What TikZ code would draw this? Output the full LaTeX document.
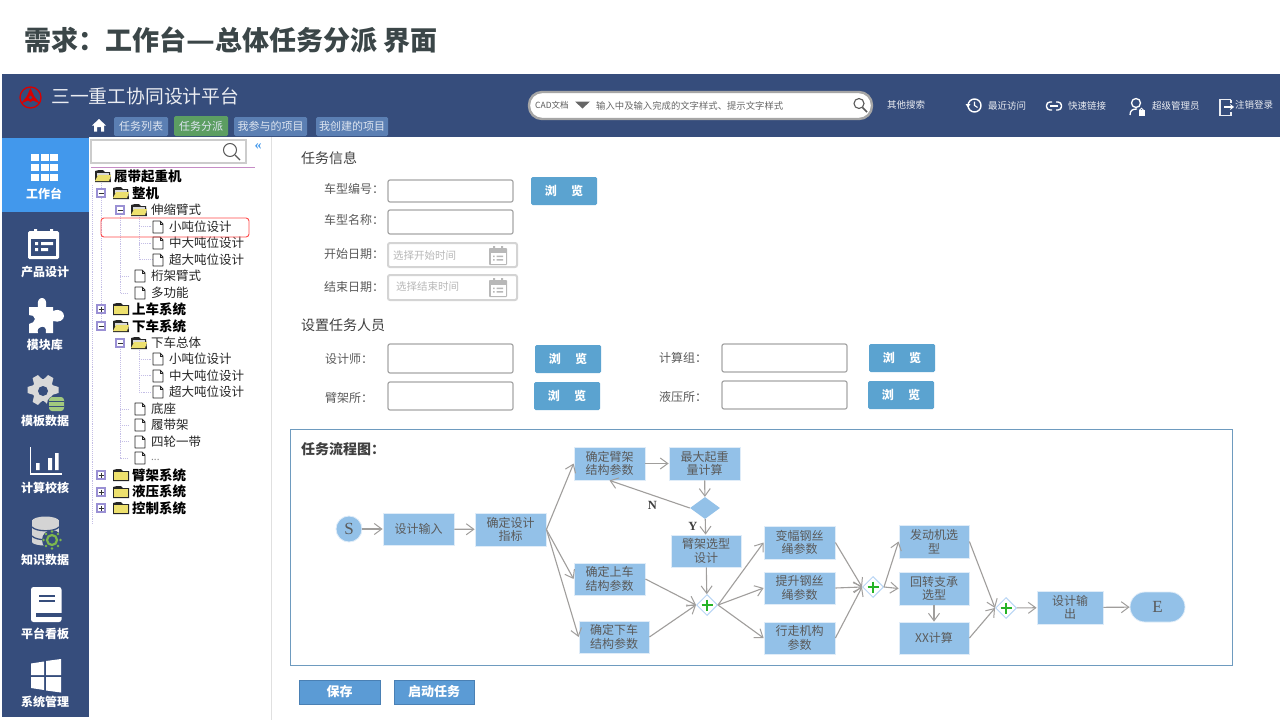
\documentclass[tikz,border=0pt]{standalone}
\usepackage{fontspec}
\setmainfont{Noto Sans CJK SC}
\newfontfamily\cjk{Noto Sans CJK SC}
\newfontfamily\ser{Liberation Serif}
\usetikzlibrary{arrows.meta,shapes.geometric,shapes.misc,calc}
\definecolor{navy}{HTML}{364D7C}
\definecolor{actblue}{HTML}{4298EC}
\definecolor{tabblue}{HTML}{5B7FB3}
\definecolor{tabgreen}{HTML}{5C9E62}
\definecolor{flow}{HTML}{93C1E8}
\definecolor{btn}{HTML}{5BA3D0}
\definecolor{savebtn}{HTML}{5B9BD5}
\definecolor{saveedge}{HTML}{4A80B4}
\definecolor{txt}{HTML}{5A5A5A}
\definecolor{arr}{HTML}{A09E9C}
\definecolor{fr}{HTML}{6E9BBF}
\definecolor{treeline}{HTML}{C4BEE6}
\definecolor{boxp}{HTML}{9A90D4}
\definecolor{fold}{HTML}{EDE06E}
\definecolor{gatee}{HTML}{B9D6F5}
\definecolor{gearg}{HTML}{D9D9D9}
\definecolor{datag}{HTML}{A2C97E}
\definecolor{dbg}{HTML}{7DB74E}
\definecolor{titlec}{HTML}{3B4648}
\newcommand{\fs}[1]{\fontsize{#1}{#1}\selectfont}
\tikzset{
 x=1pt,y=-1pt,
 fbox/.style={draw=white!70!flow,line width=.8pt,fill=flow,inner sep=0pt,align=center,text=txt,font=\fontsize{12}{13.5}\selectfont},
 arrline/.style={draw=arr,line width=1.1pt,-{Straight Barb[length=7.5pt,width=11pt,line width=1pt]}},
 gate/.style={diamond,aspect=1,draw=gatee,line width=1pt,fill=white,minimum width=21pt,minimum height=21pt,inner sep=0pt},
 lab/.style={anchor=west,inner sep=0pt,text=txt,font=\fs{12}},
 sect/.style={anchor=west,inner sep=0pt,text=black!75,font=\fs{14}},
 sidelab/.style={inner sep=0pt,text=white,font=\bfseries\fs{12}},
 toptxt/.style={inner sep=0pt,text=white!90!navy,font=\fs{9.5},anchor=west},
 tabn/.style={rounded corners=1.5pt,inner sep=0pt,text=white!80!tabblue,font=\fs{11}},
 inp/.style={draw=black!35,line width=1.2pt,rounded corners=2pt,fill=white},
 datebox/.style={draw=black!17,line width=2pt,rounded corners=2pt,fill=white},
 brw/.style={fill=btn,rounded corners=1.5pt,inner sep=0pt,text=white,font=\bfseries\fs{12}},
 phold/.style={anchor=west,inner sep=0pt,text=black!28,font=\fs{10.5}},
 trb/.style={anchor=west,inner sep=0pt,text=black,font=\bfseries\fs{13.5}},
 trn/.style={anchor=west,inner sep=0pt,text=black!85,font=\fs{12.5}},
 dots/.style={draw=treeline,line width=.9pt,densely dotted},
}
% closed folder, open folder, document, and +/- box in the tree
\newcommand{\tfold}[2]{%
 \fill[black!85] (#1-8,#2-5) -- (#1-4,#2-6) -- (#1,#2-6) -- (#1+2,#2-4) -- (#1+8,#2-4) -- (#1+8,#2+6) -- (#1-8,#2+6) -- cycle;
 \fill[fold] (#1-7,#2-3) rectangle (#1+6.5,#2+4.5);}
\newcommand{\tfoldo}[2]{%
 \fill[black!85] (#1-8,#2-5) -- (#1-4,#2-6) -- (#1,#2-6) -- (#1+2,#2-4) -- (#1+7,#2-4) -- (#1+8,#2+6) -- (#1-8,#2+6) -- cycle;
 \fill[gearg] (#1-6,#2-3) rectangle (#1+6,#2);
 \fill[fold] (#1-8,#2+5) -- (#1-5,#2-1) -- (#1+8,#2-1) -- (#1+6,#2+5) -- cycle;}
\newcommand{\tdoc}[2]{%
 \draw[black!85,line width=.9pt,fill=white,line join=round] (#1-5,#2-6) -- (#1+2,#2-6) -- (#1+5,#2-3) -- (#1+5,#2+6) -- (#1-5,#2+6) -- cycle;
 \draw[black!85,line width=.7pt] (#1+2,#2-6) -- (#1+2,#2-3) -- (#1+5,#2-3);}
\newcommand{\tminus}[2]{\draw[boxp,fill=white,line width=1.1pt] (#1-4,#2-4) rectangle (#1+4,#2+4); \draw[black!80,line width=.7pt] (#1-2.5,#2) -- (#1+2.5,#2);}
\newcommand{\tplus}[2]{\tminus{#1}{#2}\draw[black!80,line width=.7pt] (#1,#2-2.5) -- (#1,#2+2.5);}
\newcommand{\calicon}[2]{%
 \fill[black!28,rounded corners=.8pt] (#1-9,#2-7) rectangle (#1+9,#2+10);
 \fill[white] (#1-7.5,#2-2) rectangle (#1+7.5,#2+8.5);
 \fill[black!28] (#1-5,#2-9) rectangle (#1-3,#2-5) (#1+3,#2-9) rectangle (#1+5,#2-5);
 \fill[black!28] (#1-5,#2+.5) rectangle (#1-3.5,#2+2) (#1-1.5,#2+.5) rectangle (#1+5,#2+2) (#1-5,#2+4) rectangle (#1-3.5,#2+5.5) (#1-1.5,#2+4) rectangle (#1+5,#2+5.5);}
\begin{document}
\begin{tikzpicture}
\useasboundingbox (0,0) rectangle (1280,720);
\fill[white] (0,0) rectangle (1280,720);
% title
\node[anchor=west,inner sep=0pt,text=titlec,font=\bfseries\fs{27}] (title) at (24,40) {需求：工作台\scalebox{1.17}[1]{—}总体任务分派 界面};
% header and side bar
\fill[navy] (2,74) rectangle (1280,137);
\fill[navy] (2,137) rectangle (89,717);
\fill[actblue] (2,138) rectangle (89,212);
\draw[black!12,line width=.8pt] (271,137) -- (271,720);
% logo
\draw[red!85!black,line width=1.3pt] (30.5,97.5) circle (10.5);
\fill[red!85!black] (30.5,88) -- (34,96) -- (40,103.5) -- (33,100.5) -- (30.5,102) -- (28,100.5) -- (21,103.5) -- (27,96) -- cycle;
\fill[navy] (30.5,97.5) circle (1.8);
\node[anchor=west,inner sep=0pt,text=white!90!navy,font=\fs{18.8}] (brand) at (51,96.5) {三一重工协同设计平台};
% tabs
\fill[white] (99,119) -- (106,125.5) -- (104,125.5) -- (104,131.5) -- (101,131.5) -- (101,127) -- (97,127) -- (97,131.5) -- (94,131.5) -- (94,125.5) -- (92,125.5) -- cycle;
\node[tabn,fill=tabblue,minimum width=54pt,minimum height=19pt] (t1) at (141,126.5) {任务列表};
\node[tabn,fill=tabgreen,minimum width=54pt,minimum height=20pt] (t2) at (201,126) {任务分派};
\node[tabn,fill=tabblue,minimum width=73pt,minimum height=19pt] (t3) at (270.5,126.5) {我参与的项目};
\node[tabn,fill=tabblue,minimum width=72pt,minimum height=19pt] (t4) at (352,126.5) {我创建的项目};
% search bar
\draw[black!35,line width=2.4pt,fill=white,rounded corners=13pt] (529,92) rectangle (872,119);
\node[anchor=west,inner sep=0pt,text=black!65,font=\fs{8.5}] (s1) at (535,105.5) {CAD文档};
\fill[black!60] (575,101.5) -- (590,101.5) -- (582.5,108.5) -- cycle;
\node[anchor=west,inner sep=0pt,text=black!60,font=\fs{9.35}] (s2) at (596,105.5) {输入中及输入完成的文字样式、提示文字样式};
\draw[black!65,line width=1.1pt] (859,103.5) circle (5);
\draw[black!65,line width=1.5pt] (862.5,107.5) -- (867,112);
\node[toptxt] (h0) at (887,105) {其他搜索};
% top right icons
\draw[white,line width=1.4pt] (974.5,105.5) circle (6.5);
\draw[white,line width=1.1pt] (974.5,101.5) -- (974.5,105.5) -- (977.5,107.5);
\fill[white] (965.5,104) -- (970.5,104) -- (968,107.5) -- cycle;
\node[toptxt] (h1) at (988,106) {最近访问};
\draw[white,line width=1.4pt,rounded corners=3.5pt] (1052,102) -- (1046.5,102) -- (1046.5,110) -- (1052,110);
\draw[white,line width=1.4pt,rounded corners=3.5pt] (1056,102) -- (1061.5,102) -- (1061.5,110) -- (1056,110);
\draw[white,line width=1.2pt] (1050,106) -- (1058,106);
\node[toptxt] (h2) at (1068,106) {快速链接};
\draw[white,line width=1.3pt] (1136,103) circle (4.5);
\draw[white,line width=1.3pt] (1130,115) .. controls (1130,110) and (1133,109) .. (1137,109);
\fill[white] (1138.5,110) rectangle (1144.5,115.5);
\draw[white,line width=.8pt] (1141.5,110) circle (1.8);
\node[toptxt] (h3) at (1152,106) {超级管理员};
\draw[white!90!navy,line width=1.4pt] (1231,99.5) -- (1220,99.5) -- (1220,115.5) -- (1231,115.5) -- (1231,112);
\draw[white!90!navy,line width=1.4pt] (1231,99.5) -- (1231,103);
\draw[white,line width=1.3pt,-{Stealth[length=4pt,width=6pt]}] (1224,107) -- (1234,107);
\node[toptxt] (h4) at (1235,105) {注销登录};
% side bar items
\foreach \xx in {31,41,50}\foreach \yy in {154,164,174}{\fill[white] (\xx,\yy) rectangle (\xx+7.5,\yy+7);}
\node[sidelab] (m1) at (44,194) {工作台};
% product
\fill[white,rounded corners=1.5pt] (28,231) rectangle (59,259);
\fill[navy] (31,239) rectangle (56,256);
\fill[white] (34,229) rectangle (37,233) (50,229) rectangle (53,233);
\fill[white] (35,242) rectangle (38,245) (41,242) rectangle (53,245) (35,248) rectangle (38,251) (41,248) rectangle (48,251);
\node[sidelab] (m2) at (45,272) {产品设计};
% puzzle
\fill[white] (29,307) -- (38,307) .. controls (37,301) and (39,298) .. (42,298) .. controls (45,298) and (47,301) .. (46,307) -- (53,307) -- (53,311) .. controls (60,308) and (64,312) .. (64,316) .. controls (64,320) and (59,323) .. (53,321) -- (53,333) -- (46,333) .. controls (47,327) and (43,326) .. (41,327) .. controls (38,328) and (37,330) .. (38,333) -- (29,333) -- (29,324) .. controls (32,323) and (35,322) .. (35,319) .. controls (35,316) and (32,315) .. (29,315) -- cycle;
\node[sidelab] (m3) at (45,345) {模块库};
% gear + data
\foreach \a in {0,60,...,300}{\fill[gearg] ($(43,390)+(\a:15.5)+(\a+90:-3)$) -- ($(43,390)+(\a:15.5)+(\a+90:3)$) -- ($(43,390)+(\a:9)+(\a+90:5)$) -- ($(43,390)+(\a:9)+(\a+90:-5)$) -- cycle;}
\fill[gearg] (43,390) circle (11);
\fill[navy] (43,391) circle (5);
\fill[navy] (56.5,404) ellipse (9.5 and 9);
\fill[datag,rounded corners=3pt] (49,397) rectangle (64,411);
\draw[navy,line width=.8pt] (49,401.5) -- (64,401.5) (49,406) -- (64,406);
\node[sidelab] (m4) at (45,421) {模板数据};
% chart
\draw[white,line width=1.8pt] (30.5,447) -- (30.5,474) -- (62,474);
\fill[white] (36,463) rectangle (39.5,470) (48,458) rectangle (52,470) (55,453) rectangle (58.5,470);
\node[sidelab] (m5) at (45,488) {计算校核};
% database + gear
\fill[black!17] (32,520) rectangle (59,542);
\fill[black!17] (45.5,521) ellipse (13.5 and 4.5);
\fill[black!17] (45.5,542) ellipse (13.5 and 3.5);
\draw[navy,line width=1.3pt] (32,527) .. controls (36,532) and (55,532) .. (59,527);
\draw[navy,line width=1.3pt] (32,536) .. controls (36,541) and (55,541) .. (59,536);
\fill[navy] (52,540) circle (10);
\draw[dbg,line width=2.2pt] (52,540) circle (5);
\foreach \a in {0,45,...,315}{\fill[dbg] ($(52,540)+(\a:8.5)$) circle (1.4);}
\node[sidelab] (m6) at (45,560) {知识数据};
% book
\fill[white,rounded corners=2.5pt] (31,587) rectangle (61.5,622);
\fill[navy] (35.5,613) rectangle (61.5,616.5);
\draw[navy,line width=1.2pt] (39,596) -- (55,596) (39,601) -- (55,601);
\node[sidelab] (m7) at (45,634) {平台看板};
% windows
\fill[white] (31,663.5) -- (44,661.5) -- (44,675) -- (31,675) -- cycle;
\fill[white] (46,661) -- (61,659) -- (61,675) -- (46,675) -- cycle;
\fill[white] (31,677) -- (44,677) -- (44,690) -- (31,688) -- cycle;
\fill[white] (46,677) -- (61,677) -- (61,692.5) -- (46,690.5) -- cycle;
\node[sidelab] (m8) at (45,702) {系统管理};
% tree search
\draw[black!20,line width=1.2pt,fill=white] (91,140) rectangle (246,163);
\draw[black!65,line width=1pt] (230,150) circle (6.5);
\draw[black!65,line width=1.4pt] (235,155) -- (240,160);
\node[inner sep=0pt,text=actblue,font=\ser\bfseries\fs{14}] (coll) at (258,146.5) {«};
\draw[violet!45,line width=1pt] (91,167) -- (255,167);
% tree lines
\draw[dots] (92,185) -- (92,525);
\draw[dots] (101,181) -- (101,326);
\draw[dots] (120,214) -- (120,293) -- (128,293);
\draw[dots] (120,276) -- (128,276);
\draw[dots] (139,215) -- (139,259.5) -- (152,259.5) (139,243) -- (152,243) (139,226.5) -- (152,226.5);
\draw[dots] (120,347) -- (120,458) -- (128,458);
\draw[dots] (120,409) -- (128,409) (120,425) -- (128,425) (120,441.5) -- (128,441.5);
\draw[dots] (139,348) -- (139,392) -- (152,392) (139,375.5) -- (152,375.5) (139,359) -- (152,359);
% tree rows
\tfoldo{103}{176}
\node[trb] (r1) at (114,176.5) {履带起重机};
\tminus{101}{193}\tfoldo{121}{193}
\node[trb] (r2) at (132,193) {整机};
\tminus{120}{210}\tfoldo{139}{210}
\node[trn] (r3) at (151,210) {伸缩臂式};
\tdoc{158}{227}\node[trn] (r4) at (169,226.5) {小吨位设计};
\tdoc{158}{243}\node[trn] (r5) at (169,243) {中大吨位设计};
\tdoc{158}{260}\node[trn] (r6) at (169,259.5) {超大吨位设计};
\tdoc{140}{276}\node[trn] (r7) at (151,276) {桁架臂式};
\tdoc{140}{293}\node[trn] (r8) at (151,292.5) {多功能};
\tplus{101}{309}\tfold{121}{309}
\node[trb] (r9) at (132,309) {上车系统};
\tminus{101}{326}\tfoldo{121}{326}
\node[trb] (r10) at (132,326) {下车系统};
\tminus{120}{343}\tfoldo{139}{343}
\node[trn] (r11) at (151,342.5) {下车总体};
\tdoc{158}{359}\node[trn] (r12) at (169,359) {小吨位设计};
\tdoc{158}{376}\node[trn] (r13) at (169,375.5) {中大吨位设计};
\tdoc{158}{392}\node[trn] (r14) at (169,392) {超大吨位设计};
\tdoc{140}{409}\node[trn] (r15) at (151,409) {底座};
\tdoc{140}{425}\node[trn] (r16) at (151,425) {履带架};
\tdoc{140}{442}\node[trn] (r17) at (151,441.5) {四轮一带};
\tdoc{140}{458}\node[anchor=west,inner sep=0pt,text=black!50,font=\fs{10}] (r18) at (151,460) {...};
\tplus{101}{475}\tfold{121}{475}
\node[trb] (r19) at (132,475) {臂架系统};
\tplus{101}{492}\tfold{121}{492}
\node[trb] (r20) at (132,491.5) {液压系统};
\tplus{101}{508}\tfold{121}{508}
\node[trb] (r21) at (132,508) {控制系统};
\draw[red!70,line width=.9pt,rounded corners=3pt] (101,218) rectangle (249,237);
% form
\node[sect] (f0) at (301,158.5) {任务信息};
\node[lab] (l1) at (324,189) {车型编号：};
\node[lab] (l2) at (324,220) {车型名称：};
\node[lab] (l3) at (324,254) {开始日期：};
\node[lab] (l4) at (324,287) {结束日期：};
\draw[inp] (388,180) rectangle (513,202);
\draw[inp] (388,210) rectangle (513,234);
\node[brw,minimum width=66pt,minimum height=28pt] (b1) at (564,191) {浏\hspace{1.2em}览};
\draw[datebox] (388,243) rectangle (517,267);
\draw[datebox] (388,275) rectangle (517,300);
\node[phold] (p1) at (393,255.5) {选择开始时间};
\node[phold] (p2) at (396,287) {选择结束时间};
\calicon{498}{255}
\calicon{498}{287}
\node[sect] (f1) at (301,325) {设置任务人员};
\node[lab] (l5) at (325,359) {设计师：};
\node[lab] (l6) at (325,398) {臂架所：};
\node[lab] (l7) at (659,358) {计算组：};
\node[lab] (l8) at (659,397) {液压所：};
\draw[inp] (388,344) rectangle (513,373);
\draw[inp] (388,382) rectangle (513,410);
\draw[inp] (722,344) rectangle (847,372);
\draw[inp] (722,381) rectangle (847,409);
\node[brw,minimum width=66pt,minimum height=28pt] (b2) at (568,359) {浏\hspace{1.2em}览};
\node[brw,minimum width=66pt,minimum height=28pt] (b3) at (567,396) {浏\hspace{1.2em}览};
\node[brw,minimum width=66pt,minimum height=28pt] (b4) at (902,358) {浏\hspace{1.2em}览};
\node[brw,minimum width=66pt,minimum height=28pt] (b5) at (901,395) {浏\hspace{1.2em}览};
% flow frame
\draw[fr,line width=1pt] (290,429.5) rectangle (1232,665.5);
\node[sect,font=\bfseries\fs{14}] (f2) at (301,449) {任务流程图：};
% flow nodes
\node[circle,fill=flow,draw=white!70!flow,line width=.8pt,minimum size=26pt,inner sep=0pt,text=txt,font=\ser\fs{17}] (S) at (349,529) {S};
\node[fbox,minimum width=71pt,minimum height=32pt] (a1) at (418.5,529) {设计输入};
\node[fbox,minimum width=71pt,minimum height=33pt] (a2) at (510.5,529.5) {确定设计\\指标};
\node[fbox,minimum width=71pt,minimum height=33pt] (b10) at (609.5,463.5) {确定臂架\\结构参数};
\node[fbox,minimum width=71pt,minimum height=33pt] (b11) at (704.5,463.5) {最大起重\\量计算};
\node[diamond,aspect=1.36,fill=flow,inner sep=0pt,minimum width=30pt,minimum height=22pt] (d) at (705,508) {};
\node[fbox,minimum width=70pt,minimum height=32pt] (b12) at (706,551) {臂架选型\\设计};
\node[fbox,minimum width=71pt,minimum height=32pt] (b20) at (609.5,579) {确定上车\\结构参数};
\node[fbox,minimum width=70pt,minimum height=32pt] (b30) at (614,637) {确定下车\\结构参数};
\node[gate] (g1) at (707,605) {};
\node[fbox,minimum width=71pt,minimum height=33pt] (c1) at (799.5,542.5) {变幅钢丝\\绳参数};
\node[fbox,minimum width=71pt,minimum height=32pt] (c2) at (799.5,588) {提升钢丝\\绳参数};
\node[fbox,minimum width=71pt,minimum height=32pt] (c3) at (799.5,638) {行走机构\\参数};
\node[gate] (g2) at (873,587) {};
\node[fbox,minimum width=70pt,minimum height=33pt] (e1) at (934,541.5) {发动机选\\型};
\node[fbox,minimum width=70pt,minimum height=33pt] (e2) at (934,588.5) {回转支承\\选型};
\node[fbox,minimum width=70pt,minimum height=32pt] (e3) at (934,638) {XX计算};
\node[gate] (g3) at (1006,608) {};
\node[fbox,minimum width=66pt,minimum height=33pt] (o) at (1070,607.5) {设计输\\出};
\node[rounded rectangle,fill=flow,draw=white!70!flow,line width=.8pt,minimum width=55pt,minimum height=30pt,inner sep=0pt,text=txt,font=\ser\fs{17}] (E) at (1157.5,607) {E};
% plus signs
\foreach \g in {g1,g2,g3}{\draw[green!65!black!85,line width=1.2pt] ($(\g)+(-5.5,0)$) -- ($(\g)+(5.5,0)$) ($(\g)+(0,-5.5)$) -- ($(\g)+(0,5.5)$);}
% labels
\node[inner sep=0pt,text=black!75,font=\ser\bfseries\fs{12.5}] (N) at (652.5,505) {N};
\node[inner sep=0pt,text=black!75,font=\ser\bfseries\fs{12.5}] (Y) at (693,526) {Y};
% connectors
\draw[arrline] (S) -- (a1);
\draw[arrline] (a1) -- (a2);
\draw[arrline] (a2.east) -- (b10.west);
\draw[arrline] (a2.east) -- (b20.west);
\draw[arrline] (a2.east) -- (b30.west);
\draw[arrline] (b10) -- (b11);
\draw[arrline] (b11) -- (d);
\draw[arrline] (d.west) -- (b10.south);
\draw[arrline] (d) -- (b12);
\draw[arrline] (b12) -- (g1);
\draw[arrline] (b20.east) -- (g1.west);
\draw[arrline] (b30.east) -- (g1.west);
\draw[arrline] (g1.east) -- (c1.west);
\draw[arrline] (g1.east) -- (c2.west);
\draw[arrline] (g1.east) -- (c3.west);
\draw[arrline] (c1.east) -- (g2.west);
\draw[arrline] (c2.east) -- (g2.west);
\draw[arrline] (c3.east) -- (g2.west);
\draw[arrline] (g2.east) -- (e1.west);
\draw[arrline] (g2.east) -- (e2.west);
\draw[arrline] (e2) -- (e3);
\draw[arrline] (e1.east) -- (g3.west);
\draw[arrline] (e3.east) -- (g3.west);
\draw[arrline] (g3) -- (o);
\draw[arrline] (o) -- (E);
% bottom buttons
\node[draw=saveedge,fill=savebtn,line width=1pt,minimum width=81pt,minimum height=24pt,inner sep=0pt,text=white,font=\bfseries\fs{13}] (save) at (339.5,692) {保存};
\node[draw=saveedge,fill=savebtn,line width=1pt,minimum width=80pt,minimum height=24pt,inner sep=0pt,text=white,font=\bfseries\fs{13}] (start) at (434,692) {启动任务};
\end{tikzpicture}
\end{document}
